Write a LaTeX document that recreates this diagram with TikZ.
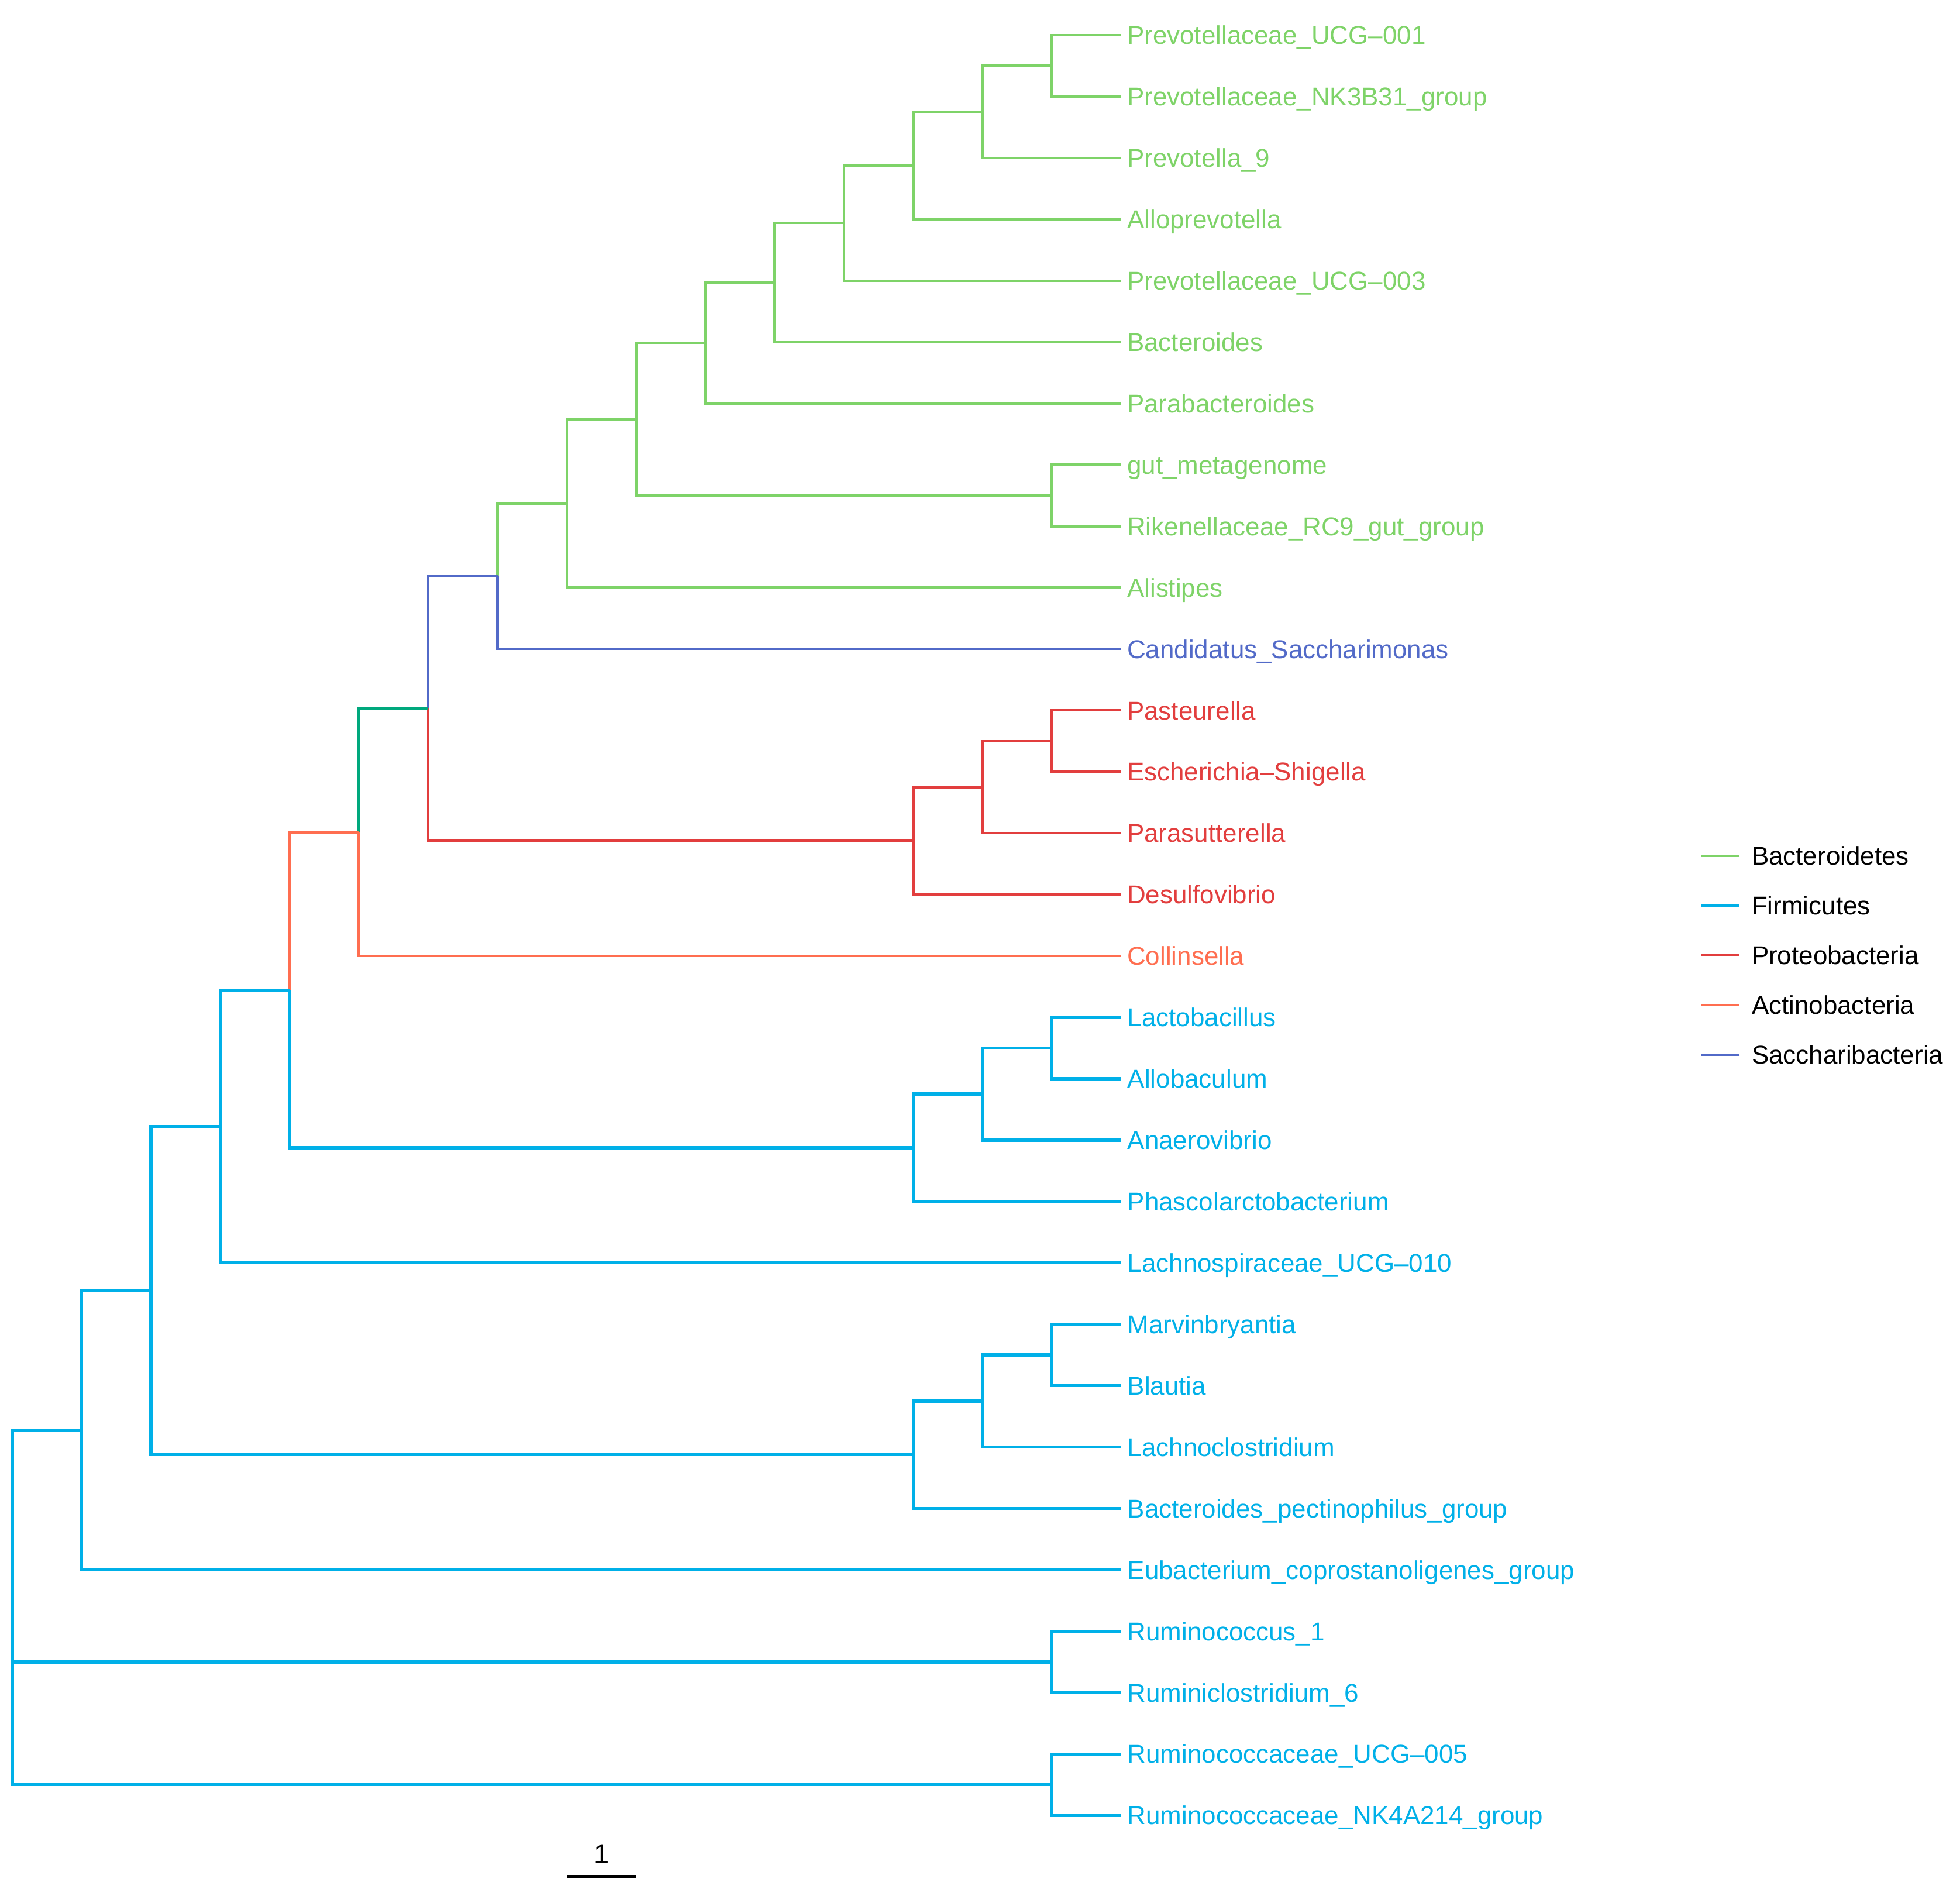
\documentclass[tikz,border=0pt]{standalone}
\usepackage{fontspec}
\setmainfont{Liberation Sans}
\definecolor{bactcol}{RGB}{126,211,104}
\definecolor{firmcol}{RGB}{0,176,232}
\definecolor{protcol}{RGB}{226,62,62}
\definecolor{acticol}{RGB}{255,110,80}
\definecolor{sacccol}{RGB}{82,106,200}
\definecolor{anccol}{RGB}{0,168,125}
\tikzset{
  bactline/.style={color=bactcol, line width=1.2pt},
  firmline/.style={color=firmcol, line width=1.55pt},
  protline/.style={color=protcol, line width=1.2pt},
  actiline/.style={color=acticol, line width=1.2pt},
  saccline/.style={color=sacccol, line width=1.2pt},
  ancline/.style={color=anccol, line width=1.2pt},
  leaflabel/.style={anchor=west, inner xsep=0.08cm, inner ysep=0pt, text height=8.95pt, text depth=0pt, font=\fontsize{12.5}{15}\selectfont},
  legtext/.style={anchor=west, inner sep=0pt, text height=8.95pt, text depth=0pt, text=black, font=\fontsize{12.5}{15}\selectfont}
}
\begin{document}
\begin{tikzpicture}[x=1.185cm, y=-1.0493cm]
          \useasboundingbox (-0.177, -0.572) rectangle (28.10, 30.31);

          \node [leaflabel, bactline] (t0) at (16, 0) {Prevotellaceae\_UCG–001};
          \node [leaflabel, bactline] (t1) at (16, 1) {Prevotellaceae\_NK3B31\_group};
          \node [leaflabel, bactline] (t2) at (16, 2) {Prevotella\_9};
          \node [leaflabel, bactline] (t3) at (16, 3) {Alloprevotella};
          \node [leaflabel, bactline] (t4) at (16, 4) {Prevotellaceae\_UCG–003};
          \node [leaflabel, bactline] (t5) at (16, 5) {Bacteroides};
          \node [leaflabel, bactline] (t6) at (16, 6) {Parabacteroides};
          \node [leaflabel, bactline] (t7) at (16, 7) {gut\_metagenome};
          \node [leaflabel, bactline] (t8) at (16, 8) {Rikenellaceae\_RC9\_gut\_group};
          \node [leaflabel, bactline] (t9) at (16, 9) {Alistipes};
          \node [leaflabel, saccline] (t10) at (16, 10) {Candidatus\_Saccharimonas};
          \node [leaflabel, protline] (t11) at (16, 11) {Pasteurella};
          \node [leaflabel, protline] (t12) at (16, 12) {Escherichia–Shigella};
          \node [leaflabel, protline] (t13) at (16, 13) {Parasutterella};
          \node [leaflabel, protline] (t14) at (16, 14) {Desulfovibrio};
          \node [leaflabel, actiline] (t15) at (16, 15) {Collinsella};
          \node [leaflabel, firmline] (t16) at (16, 16) {Lactobacillus};
          \node [leaflabel, firmline] (t17) at (16, 17) {Allobaculum};
          \node [leaflabel, firmline] (t18) at (16, 18) {Anaerovibrio};
          \node [leaflabel, firmline] (t19) at (16, 19) {Phascolarctobacterium};
          \node [leaflabel, firmline] (t20) at (16, 20) {Lachnospiraceae\_UCG–010};
          \node [leaflabel, firmline] (t21) at (16, 21) {Marvinbryantia};
          \node [leaflabel, firmline] (t22) at (16, 22) {Blautia};
          \node [leaflabel, firmline] (t23) at (16, 23) {Lachnoclostridium};
          \node [leaflabel, firmline] (t24) at (16, 24) {Bacteroides\_pectinophilus\_group};
          \node [leaflabel, firmline] (t25) at (16, 25) {Eubacterium\_coprostanoligenes\_group};
          \node [leaflabel, firmline] (t26) at (16, 26) {Ruminococcus\_1};
          \node [leaflabel, firmline] (t27) at (16, 27) {Ruminiclostridium\_6};
          \node [leaflabel, firmline] (t28) at (16, 28) {Ruminococcaceae\_UCG–005};
          \node [leaflabel, firmline] (t29) at (16, 29) {Ruminococcaceae\_NK4A214\_group};

          \coordinate (a15) at (15, 0.5);
          \coordinate (a14) at (14, 1.25);
          \coordinate (a13) at (13, 2.125);
          \coordinate (a12) at (12, 3.0625);
          \coordinate (a11) at (11, 4.0313);
          \coordinate (a10) at (10, 5.0156);
          \coordinate (b15) at (15, 7.5);
          \coordinate (a9) at (9, 6.2578);
          \coordinate (a8) at (8, 7.6289);
          \coordinate (a7) at (7, 8.8145);
          \coordinate (p15) at (15, 11.5);
          \coordinate (p14) at (14, 12.25);
          \coordinate (p13) at (13, 13.125);
          \coordinate (a6) at (6, 10.9697);
          \coordinate (a5) at (5, 12.9849);
          \coordinate (f15) at (15, 16.5);
          \coordinate (f14) at (14, 17.25);
          \coordinate (f13) at (13, 18.125);
          \coordinate (a4) at (4, 15.5549);
          \coordinate (a3) at (3, 17.7775);
          \coordinate (g15) at (15, 21.5);
          \coordinate (g14) at (14, 22.25);
          \coordinate (g13) at (13, 23.125);
          \coordinate (a2) at (2, 20.4512);
          \coordinate (a1) at (1, 22.7256);
          \coordinate (r1) at (15, 26.5);
          \coordinate (r2) at (15, 28.5);
          \coordinate (root) at (0, 25.6128);

          \draw [bactline] (a15) |- (t0.west) (a15) |- (t1.west);
          \draw [bactline] (a14) |- (a15) (a14) |- (t2.west);
          \draw [bactline] (a13) |- (a14) (a13) |- (t3.west);
          \draw [bactline] (a12) |- (a13) (a12) |- (t4.west);
          \draw [bactline] (a11) |- (a12) (a11) |- (t5.west);
          \draw [bactline] (a10) |- (a11) (a10) |- (t6.west);
          \draw [bactline] (b15) |- (t7.west) (b15) |- (t8.west);
          \draw [bactline] (a9) |- (a10) (a9) |- (b15);
          \draw [bactline] (a8) |- (a9) (a8) |- (t9.west);
          \draw [bactline] (a7) |- (a8);
          \draw [saccline] (a7) |- (t10.west);
          \draw [protline] (p15) |- (t11.west) (p15) |- (t12.west);
          \draw [protline] (p14) |- (p15) (p14) |- (t13.west);
          \draw [protline] (p13) |- (p14) (p13) |- (t14.west);
          \draw [saccline] (a6) |- (a7);
          \draw [protline] (a6) |- (p13);
          \draw [ancline] (a5) |- (a6);
          \draw [actiline] (a5) |- (t15.west);
          \draw [actiline] (a4) |- (a5);
          \draw [firmline] (f15) |- (t16.west) (f15) |- (t17.west);
          \draw [firmline] (f14) |- (f15) (f14) |- (t18.west);
          \draw [firmline] (f13) |- (f14) (f13) |- (t19.west);
          \draw [firmline] (a4) |- (f13);
          \draw [firmline] (a3) |- (a4) (a3) |- (t20.west);
          \draw [firmline] (g15) |- (t21.west) (g15) |- (t22.west);
          \draw [firmline] (g14) |- (g15) (g14) |- (t23.west);
          \draw [firmline] (g13) |- (g14) (g13) |- (t24.west);
          \draw [firmline] (a2) |- (a3) (a2) |- (g13);
          \draw [firmline] (a1) |- (a2) (a1) |- (t25.west);
          \draw [firmline] (r1) |- (t26.west) (r1) |- (t27.west);
          \draw [firmline] (r2) |- (t28.west) (r2) |- (t29.west);
          \draw [firmline] (root) |- (a1) (root) |- (r1) (root) |- (r2);

          \node [legtext] (lbact) at (25.09, 13.37) {Bacteroidetes};
          \node [legtext] (lfirm) at (25.09, 14.18) {Firmicutes};
          \node [legtext] (lprot) at (25.09, 14.99) {Proteobacteria};
          \node [legtext] (lacti) at (25.09, 15.80) {Actinobacteria};
          \node [legtext] (lsacc) at (25.09, 16.61) {Saccharibacteria};
          \draw [bactline] ([xshift=-0.2cm]lbact.west) -- ++(-0.66cm, 0);
          \draw [firmline] ([xshift=-0.2cm]lfirm.west) -- ++(-0.66cm, 0);
          \draw [protline] ([xshift=-0.2cm]lprot.west) -- ++(-0.66cm, 0);
          \draw [actiline] ([xshift=-0.2cm]lacti.west) -- ++(-0.66cm, 0);
          \draw [saccline] ([xshift=-0.2cm]lsacc.west) -- ++(-0.66cm, 0);

          \coordinate (s1) at (8, 30);
          \coordinate (s2) at (9, 30);
          \draw [line width=1.6pt, black] (s1) -- (s2);
          \node [inner sep=0pt, text height=9.6pt, text depth=0pt, font=\fontsize{13.4}{16}\selectfont] (slabel) at (8.5, 29.62) {1};
        \end{tikzpicture}
\end{document}
